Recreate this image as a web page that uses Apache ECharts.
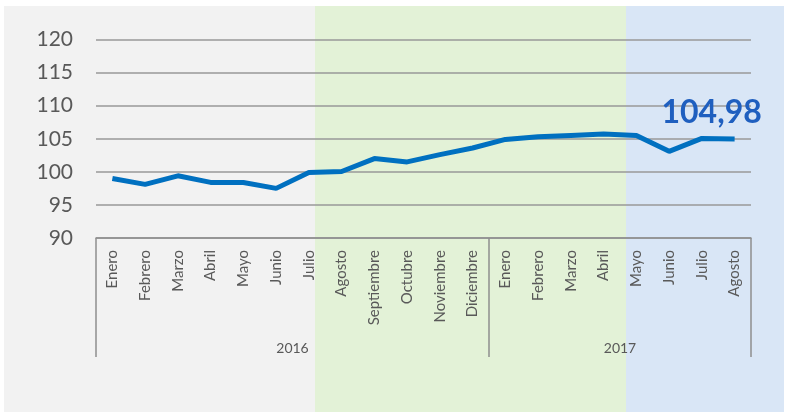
<!DOCTYPE html>
<html>
<head>
<meta charset="utf-8">
<script src="https://cdn.jsdelivr.net/npm/echarts@6/dist/echarts.min.js"></script>
<style>
html,body{margin:0;padding:0;background:#fff;}
#c{width:788px;height:412px;}
</style>
</head>
<body>
<div id="c"></div>
<script>
const months = ['Enero','Febrero','Marzo','Abril','Mayo','Junio','Julio','Agosto','Septiembre','Octubre','Noviembre','Diciembre',
                'Enero','Febrero','Marzo','Abril','Mayo','Junio','Julio','Agosto'];
const values = [99.0, 98.1, 99.4, 98.4, 98.4, 97.5, 99.9, 100.05, 102.0, 101.5, 102.6, 103.6,
                104.9, 105.3, 105.5, 105.7, 105.5, 103.1, 105.05, 104.98];
const years = ['2016', '2017'];
const yearCenters = [6, 16];
const yearBounds = [0, 12, 20];
const yTicks = {min: 90, max: 120, step: 5};

const chart = echarts.init(document.getElementById('c'), null, {renderer: 'canvas'});
const FONT = 'Lato, "Open Sans", sans-serif';
const AXIS_GREY = '#8f8f8f';

const seriesData = values.map((v, i) => i === values.length - 1
  ? {value: v, label: {show: true}}
  : {value: v, label: {show: false}});

chart.setOption({
  animation: false,
  backgroundColor: '#ffffff',
  textStyle: {fontFamily: FONT},
  graphic: [
    {type: 'rect', z: -100, shape: {x: 4, y: 6, width: 311, height: 406}, style: {fill: '#F2F2F2'}},
    {type: 'rect', z: -100, shape: {x: 315, y: 6, width: 311, height: 406}, style: {fill: '#E3F2D7'}},
    {type: 'rect', z: -100, shape: {x: 626, y: 6, width: 158, height: 406}, style: {fill: '#D9E6F6'}}
  ],
  grid: {left: 96, right: 37, top: 39.5, bottom: 174, containLabel: false},
  xAxis: [
    {
      type: 'category',
      data: months,
      boundaryGap: true,
      axisLine: {show: true, lineStyle: {color: AXIS_GREY, width: 1.5}},
      axisTick: {show: false},
      axisLabel: {interval: 0, rotate: 90, fontSize: 15, color: '#595959', margin: 12, fontFamily: FONT},
      splitLine: {show: false}
    },
    {
      type: 'value',
      position: 'bottom',
      min: 0, max: 20,
      axisLine: {show: false},
      axisTick: {show: true, customValues: yearBounds, length: 119, lineStyle: {color: AXIS_GREY, width: 1.5}},
      axisLabel: {show: true, customValues: yearCenters, margin: 103, fontSize: 14, color: '#595959', fontFamily: FONT,
        formatter: v => years[yearCenters.indexOf(v)] || ''},
      splitLine: {show: false}
    }
  ],
  yAxis: {
    type: 'value',
    min: yTicks.min, max: yTicks.max, interval: yTicks.step,
    axisLine: {show: false},
    axisTick: {show: false},
    axisLabel: {fontSize: 21, color: '#595959', margin: 23, fontFamily: FONT},
    splitLine: {show: true, lineStyle: {color: '#999999', width: 1.5}}
  },
  series: [{
    type: 'line',
    data: seriesData,
    xAxisIndex: 0,
    symbol: 'circle',
    symbolSize: 0,
    showSymbol: true,
    lineStyle: {color: '#0070C0', width: 5},
    itemStyle: {color: '#0070C0'},
    label: {
      position: 'inside',
      offset: [-23, -26],
      fontSize: 32,
      fontWeight: 'bold',
      color: '#1F5FBF',
      fontFamily: FONT,
      formatter: p => p.value.toFixed(2).replace('.', ',')
    },
    z: 5
  }]
});
</script>
</body>
</html>
